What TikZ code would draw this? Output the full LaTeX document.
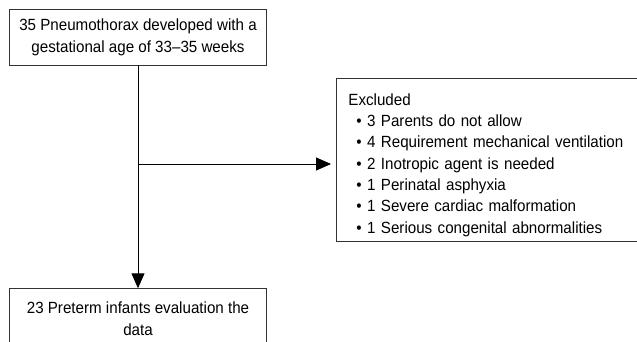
\documentclass[tikz,border=0pt]{standalone}
\usepackage{fontspec}
\setmainfont{Liberation Sans}[FakeStretch=0.935]
\usetikzlibrary{arrows.meta,positioning,calc}

\newcommand{\bitem}[1]{\hspace*{8pt}\textbullet\ #1}

\begin{document}
\begin{tikzpicture}[
  x=1pt, y=1pt,
  font=\fontsize{16.2}{21.3}\selectfont,
  flowbox/.style={
    draw=black!80, line width=0.9pt, align=center,
    inner sep=4pt, minimum width=256.5pt
  },
  exclbox/.style={
    draw=black!80, line width=0.9pt, align=left,
    inner xsep=12pt, inner ysep=0pt,
    text width=286pt, minimum height=163.3pt
  },
  arr/.style={-{Triangle[length=15pt,width=13pt]}, line width=0.9pt}
]
\useasboundingbox (0,0) rectangle (637,-342);
\begin{scope}
\clip (0,0) rectangle (637,-342);

% Top box
\node[flowbox, minimum height=55.7pt] (pneu) at (138,-37.2) {
  35 Pneumothorax developed with a\\
  gestational age of 33--35 weeks
};

% Bottom box
\node[flowbox, minimum height=60pt, anchor=north] (eval) at (138,-288.3) {
  23 Preterm infants evaluation the\\
  data
};

% Excluded box
\node[exclbox, anchor=north west] (excl) at (336,-77.7) {
  \rule{0pt}{22pt}Excluded\\
  \bitem{3 Parents do not allow}\\
  \bitem{4 Requirement mechanical ventilation}\\
  \bitem{2 Inotropic agent is needed}\\
  \bitem{1 Perinatal asphyxia}\\
  \bitem{1 Severe cardiac malformation}\\
  \bitem{1 Serious congenital abnormalities}
};

% Arrows
\coordinate (branch) at (138,-164);
\draw[arr] (pneu) -- (eval);
\draw[arr, shorten >=5pt] (branch) -- (branch -| excl.west);

\end{scope}
\end{tikzpicture}
\end{document}
